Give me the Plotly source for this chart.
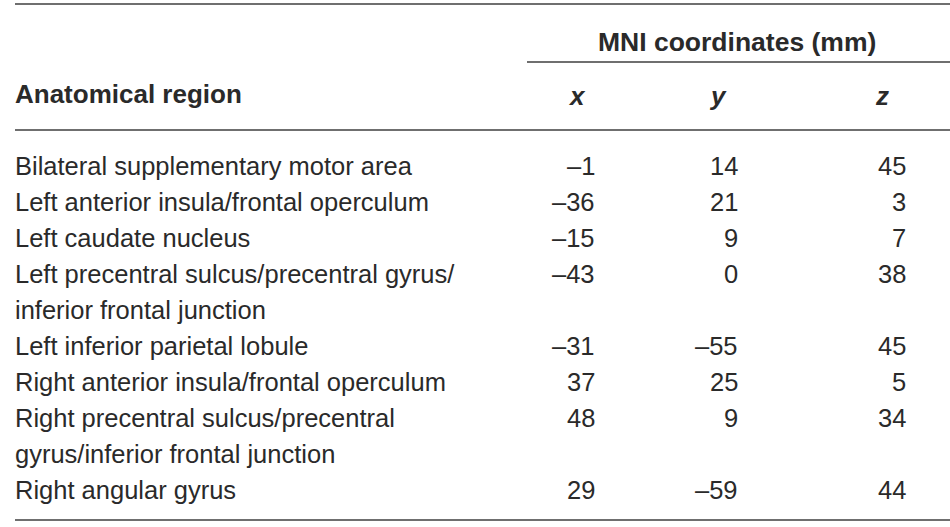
import plotly.graph_objects as go

# --- table content ---
REGIONS = [
    "Bilateral supplementary motor area",
    "Left anterior insula/frontal operculum",
    "Left caudate nucleus",
    "Left precentral sulcus/precentral gyrus/\ninferior frontal junction",
    "Left inferior parietal lobule",
    "Right anterior insula/frontal operculum",
    "Right precentral sulcus/precentral\ngyrus/inferior frontal junction",
    "Right angular gyrus",
]
MNI_X = [-1, -36, -15, -43, -31, 37, 48, 29]
MNI_Y = [14, 21, 9, 0, -55, 25, 9, -59]
MNI_Z = [45, 3, 7, 38, 45, 5, 34, 44]

GROUP_HEADER = "MNI coordinates (mm)"
COL_HEADERS = ["x", "y", "z"]
ROW_HEADER = "Anatomical region"

# --- layout knobs (pixels, page is 950x527) ---
W, H = 950, 527
FONT = "Liberation Sans, Arial, Helvetica, sans-serif"
FS = 25.5
TXT = "#2a2a2a"
RULE = "#6f6f6f"
LINE_H = 36
FIRST_ROW = 166
LEFT = 13                        # annotations carry ~3px of padding
COL_RIGHT = [597, 740, 908]      # numbers are right aligned
COL_HEAD_CX = [577, 718, 882]    # x / y / z header centres


def fmt(v):
    return str(v).replace("-", "\u2013")


fig = go.Figure()
# invisible trace so the axes exist
fig.add_trace(go.Scatter(x=[0, W], y=[0, H], mode="markers",
                         marker=dict(opacity=0), hoverinfo="skip", showlegend=False))

ann = []


def put(x, y, text, anchor="left", bold=False, italic=False, size=FS):
    t = text
    if italic:
        t = f"<i>{t}</i>"
    if bold:
        t = f"<b>{t}</b>"
    ann.append(dict(x=x, y=y, xref="x", yref="y", text=t, showarrow=False,
                    xanchor=anchor, yanchor="middle",
                    font=dict(family=FONT, size=size, color=TXT)))


# headers
put(737, 42, GROUP_HEADER, anchor="center", bold=True, size=26.5)
put(LEFT, 94, ROW_HEADER, bold=True, size=26)
for cx, h in zip(COL_HEAD_CX, COL_HEADERS):
    put(cx, 96, h, anchor="center", bold=True, italic=True, size=26)

# body rows
line = 0
for name, vx, vy, vz in zip(REGIONS, MNI_X, MNI_Y, MNI_Z):
    y0 = FIRST_ROW + line * LINE_H
    parts = name.split("\n")
    for k, p in enumerate(parts):
        put(LEFT, y0 + k * LINE_H, p)
    for xr, v in zip(COL_RIGHT, (vx, vy, vz)):
        put(xr, y0, fmt(v), anchor="right")
    line += len(parts)

# rules
shapes = []
for (x0, x1, y) in [(15, W, 4), (527, W, 62), (15, W, 130), (15, W, 520)]:
    shapes.append(dict(type="line", xref="x", yref="y", x0=x0, x1=x1, y0=y, y1=y,
                       line=dict(color=RULE, width=2)))

fig.update_layout(
    width=W, height=H,
    margin=dict(l=0, r=0, t=0, b=0),
    paper_bgcolor="white", plot_bgcolor="white",
    annotations=ann, shapes=shapes,
    showlegend=False,
)
fig.update_xaxes(range=[0, W], visible=False, fixedrange=True)
fig.update_yaxes(range=[H, 0], visible=False, fixedrange=True)

# drop the default 8px body margin so the figure fills the window
fig.write_html("out.html", config={"displayModeBar": False},
               post_script="document.body.style.margin='0px';")
